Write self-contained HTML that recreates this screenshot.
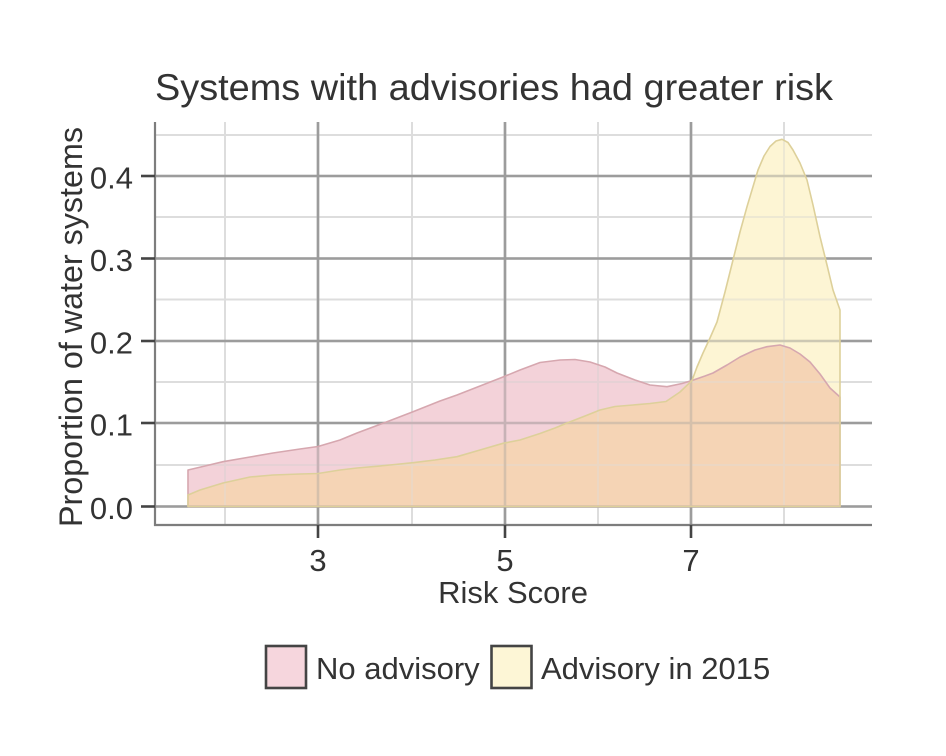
<!DOCTYPE html>
<html><head><meta charset="utf-8"><style>
html,body{margin:0;padding:0;background:#fff;}
svg{display:block;}
text{font-family:"Liberation Sans",Arial,sans-serif;fill:#333;}
</style></head><body>
<svg width="946" height="756" viewBox="0 0 946 756" xmlns="http://www.w3.org/2000/svg">
<defs>
<path id="pinkP" d="M188,506.5 L188,470 L205,466 L223,461.7 L250,457 L273,453 L300,449 L318,446.5 L340,440 L357,433 L387,421.7 L413,411.7 L440,401 L457,395 L480,386 L503,377 L520,370 L540,362.5 L560,360 L575,359.5 L590,362 L605,367 L617,373 L635,380 L650,385 L667,386.7 L682,383.5 L692,380.5 L705,376 L713,373 L727,365 L740,357 L755,350 L767,346.7 L780,345 L790,348 L800,354 L810,362 L820,374 L830,388 L840,397 L840,506.5 Z"/>
<path id="yelP" d="M188,506.5 L188,495 L200,490 L223,483 L250,477 L273,475 L300,474 L318,473.5 L340,470 L357,468 L385,465.5 L413,462.7 L435,460 L457,456.7 L480,450 L503,443.3 L520,440 L540,433.5 L555,428 L567,423 L585,416 L600,410 L615,406.5 L633,405 L650,403.5 L666,401.5 L680,392 L692,380.5 L697,367 L703,353 L710,338 L717,322 L725,292 L733,260 L740,232 L747,206.7 L752,190 L758,170 L764,156 L770,146.5 L776,141 L782,139.3 L788,142.5 L793,150 L800,163 L807,180 L813,205 L820,236.7 L827,265 L833,290 L840,310 L840,506.5 Z"/>
<clipPath id="pinkClip"><use href="#pinkP"/></clipPath>
</defs>
<rect width="946" height="756" fill="#fff"/>
<!-- title -->
<text x="155" y="100" font-size="37" textLength="678" lengthAdjust="spacingAndGlyphs" fill="#262626">Systems with advisories had greater risk</text>

<!-- gridlines (under) -->
<g stroke="#dddddd" stroke-width="2">
<line x1="155" y1="465" x2="872" y2="465"/>
<line x1="155" y1="382" x2="872" y2="382"/>
<line x1="155" y1="299.5" x2="872" y2="299.5"/>
<line x1="155" y1="217" x2="872" y2="217"/>
<line x1="155" y1="135" x2="872" y2="135"/>
<line x1="225" y1="122" x2="225" y2="525"/>
<line x1="412" y1="122" x2="412" y2="525"/>
<line x1="598" y1="122" x2="598" y2="525"/>
<line x1="784" y1="122" x2="784" y2="525"/>
</g>
<g stroke="#9c9c9c" stroke-width="2.6">
<line x1="155" y1="506.5" x2="872" y2="506.5"/>
<line x1="155" y1="423" x2="872" y2="423"/>
<line x1="155" y1="341" x2="872" y2="341"/>
<line x1="155" y1="258.5" x2="872" y2="258.5"/>
<line x1="155" y1="176" x2="872" y2="176"/>
<line x1="318" y1="122" x2="318" y2="525"/>
<line x1="505" y1="122" x2="505" y2="525"/>
<line x1="691" y1="122" x2="691" y2="525"/>
</g>

<!-- fills -->
<use href="#pinkP" fill="#f0c7cf" fill-opacity="0.8"/>
<use href="#yelP" fill="#fcf2c9" fill-opacity="0.8"/>
<use href="#yelP" fill="#f4ceaf" fill-opacity="0.8" clip-path="url(#pinkClip)"/>

<!-- gridlines again on top, translucent (same colours: invisible change outside fills) -->
<g opacity="0.35">
<g stroke="#dddddd" stroke-width="2">
<line x1="155" y1="465" x2="872" y2="465"/>
<line x1="155" y1="382" x2="872" y2="382"/>
<line x1="155" y1="299.5" x2="872" y2="299.5"/>
<line x1="155" y1="217" x2="872" y2="217"/>
<line x1="155" y1="135" x2="872" y2="135"/>
<line x1="225" y1="122" x2="225" y2="525"/>
<line x1="412" y1="122" x2="412" y2="525"/>
<line x1="598" y1="122" x2="598" y2="525"/>
<line x1="784" y1="122" x2="784" y2="525"/>
</g>
<g stroke="#9c9c9c" stroke-width="2.6">
<line x1="155" y1="506.5" x2="872" y2="506.5"/>
<line x1="155" y1="423" x2="872" y2="423"/>
<line x1="155" y1="341" x2="872" y2="341"/>
<line x1="155" y1="258.5" x2="872" y2="258.5"/>
<line x1="155" y1="176" x2="872" y2="176"/>
<line x1="318" y1="122" x2="318" y2="525"/>
<line x1="505" y1="122" x2="505" y2="525"/>
<line x1="691" y1="122" x2="691" y2="525"/>
</g>
</g>

<!-- outlines -->
<use href="#pinkP" fill="none" stroke="#d6a7af" stroke-width="1.6" stroke-linejoin="round"/>
<use href="#yelP" fill="none" stroke="#ddd09a" stroke-width="1.6" stroke-linejoin="round"/>

<!-- axes -->
<g stroke="#7d7d7d" stroke-width="2.2">
<line x1="155" y1="122" x2="155" y2="526"/>
<line x1="154" y1="525" x2="872" y2="525"/>
</g>
<!-- ticks -->
<g stroke="#444" stroke-width="2.6">
<line x1="141" y1="506.5" x2="155" y2="506.5"/>
<line x1="141" y1="423" x2="155" y2="423"/>
<line x1="141" y1="341" x2="155" y2="341"/>
<line x1="141" y1="258.5" x2="155" y2="258.5"/>
<line x1="141" y1="176" x2="155" y2="176"/>
<line x1="318" y1="525" x2="318" y2="538"/>
<line x1="505" y1="525" x2="505" y2="538"/>
<line x1="691" y1="525" x2="691" y2="538"/>
</g>
<!-- tick labels -->
<g font-size="31" text-anchor="end" fill="#3a3a3a">
<text x="133" y="519">0.0</text>
<text x="133" y="435.5">0.1</text>
<text x="133" y="353.5">0.2</text>
<text x="133" y="271">0.3</text>
<text x="133" y="188.5">0.4</text>
</g>
<g font-size="31" text-anchor="middle" fill="#3a3a3a">
<text x="318" y="571">3</text>
<text x="505" y="571">5</text>
<text x="691" y="571">7</text>
</g>
<!-- axis titles -->
<text x="513" y="603" font-size="31" text-anchor="middle" fill="#333">Risk Score</text>
<text transform="translate(82,327) rotate(-90)" font-size="32" text-anchor="middle" textLength="400" lengthAdjust="spacingAndGlyphs" fill="#333">Proportion of water systems</text>

<!-- legend -->
<rect x="266" y="646" width="40" height="42" fill="#f6d6dd" stroke="#444" stroke-width="2.6"/>
<text x="316" y="679" font-size="31" fill="#333">No advisory</text>
<rect x="491.5" y="646" width="40" height="42" fill="#fdf6d6" stroke="#444" stroke-width="2.6"/>
<text x="541" y="679" font-size="31" fill="#333">Advisory in 2015</text>
</svg>
</body></html>
